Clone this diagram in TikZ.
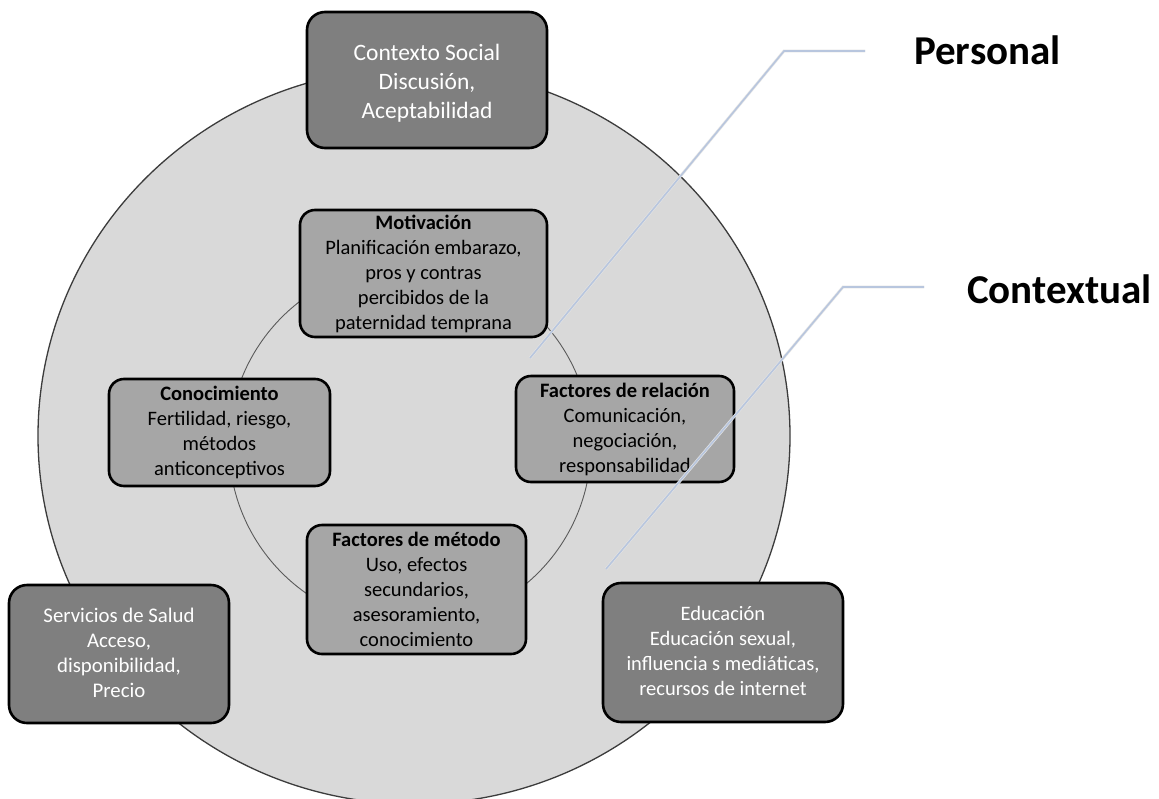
\documentclass[tikz,border=0pt]{standalone}
\usepackage{fontspec}
\setmainfont{Carlito}
\definecolor{ringfill}{RGB}{217,217,217}
\definecolor{ringline}{RGB}{60,60,60}
\definecolor{innerline}{RGB}{90,90,90}
\definecolor{darkbox}{RGB}{127,127,127}
\definecolor{midbox}{RGB}{166,166,166}
\definecolor{leader}{RGB}{184,198,222}
\begin{document}
\begin{tikzpicture}[x=1pt,y=-1pt,
  boxbase/.style={rectangle, rounded corners=18pt, draw=black, line width=2.6pt, inner sep=0pt, align=center},
  outerbox/.style={boxbase, fill=darkbox, text=white},
  innerbox/.style={boxbase, fill=midbox, text=black, rounded corners=15pt},
  leaderline/.style={draw=leader, line width=1.6pt},
  leadershadow/.style={draw=black!10, line width=2.8pt},
  title/.style={anchor=base west, inner sep=0pt, font=\fontsize{41}{49}\selectfont\bfseries}
]
\clip (0,0) rectangle (1159,798);
\fill[white] (0,0) rectangle (1159,798);
% rings
\draw[fill=ringfill, draw=ringline, line width=1.3pt] (414,436) ellipse [x radius=376, y radius=368];
\draw[draw=innerline, line width=0.9pt] (410,445) circle [radius=181];
% outer boxes
\node[outerbox, minimum width=240, minimum height=136, font=\fontsize{23.5}{29}\selectfont] (social) at (427,80)
  {\rule{0pt}{23.5pt}Contexto Social\\Discusión,\\Aceptabilidad};
\node[outerbox, minimum width=220, minimum height=138, font=\fontsize{20.8}{25}\selectfont] (salud) at (119,654)
  {Servicios de Salud\\Acceso,\\disponibilidad,\\Precio\rule[-2pt]{0pt}{0pt}};
\node[outerbox, minimum width=240, minimum height=139, font=\fontsize{20.5}{25}\selectfont] (educ) at (723,652.5)
  {Educación\\Educación sexual,\\influencia s mediáticas,\\recursos de internet\rule[-3pt]{0pt}{0pt}};
% inner boxes
\node[innerbox, minimum width=247, minimum height=127, font=\fontsize{20.5}{25}\selectfont] (motiv) at (423.5,273.5)
  {\textbf{Motivación}\\Planificación embarazo,\\pros y contras\\percibidos de la\\paternidad temprana};
\node[innerbox, minimum width=221, minimum height=107, font=\fontsize{20.5}{25}\selectfont] (conoc) at (219.5,432.5)
  {\textbf{Conocimiento}\\Fertilidad, riesgo,\\métodos\\anticonceptivos};
\node[innerbox, minimum width=218, minimum height=106, font=\fontsize{20.5}{25}\selectfont] (relac) at (625,429)
  {\textbf{Factores de relación}\\Comunicación,\\negociación,\\responsabilidad};
\node[innerbox, minimum width=219, minimum height=129, font=\fontsize{20.5}{25}\selectfont] (metodo) at (416.5,589.5)
  {\textbf{Factores de método}\\Uso, efectos\\secundarios,\\asesoramiento,\\conocimiento};
% titles
\node[title] (personal) at (914,64) {Personal};
\node[title] (contextual) at (967,303) {Contextual};
% leader lines
\coordinate (pA) at (865,51);
\coordinate (pB) at (784,51);
\coordinate (pC) at (530,358);
\coordinate (cA) at (924,287);
\coordinate (cB) at (843,287);
\coordinate (cC) at (606,569);
\draw[leadershadow, shift={(1.5,1.5)}] (pA) -- (pB) -- (pC);
\draw[leadershadow, shift={(1.5,1.5)}] (cA) -- (cB) -- (cC);
\draw[leaderline] (pA) -- (pB) -- (pC);
\draw[leaderline] (cA) -- (cB) -- (cC);
\end{tikzpicture}
\end{document}
